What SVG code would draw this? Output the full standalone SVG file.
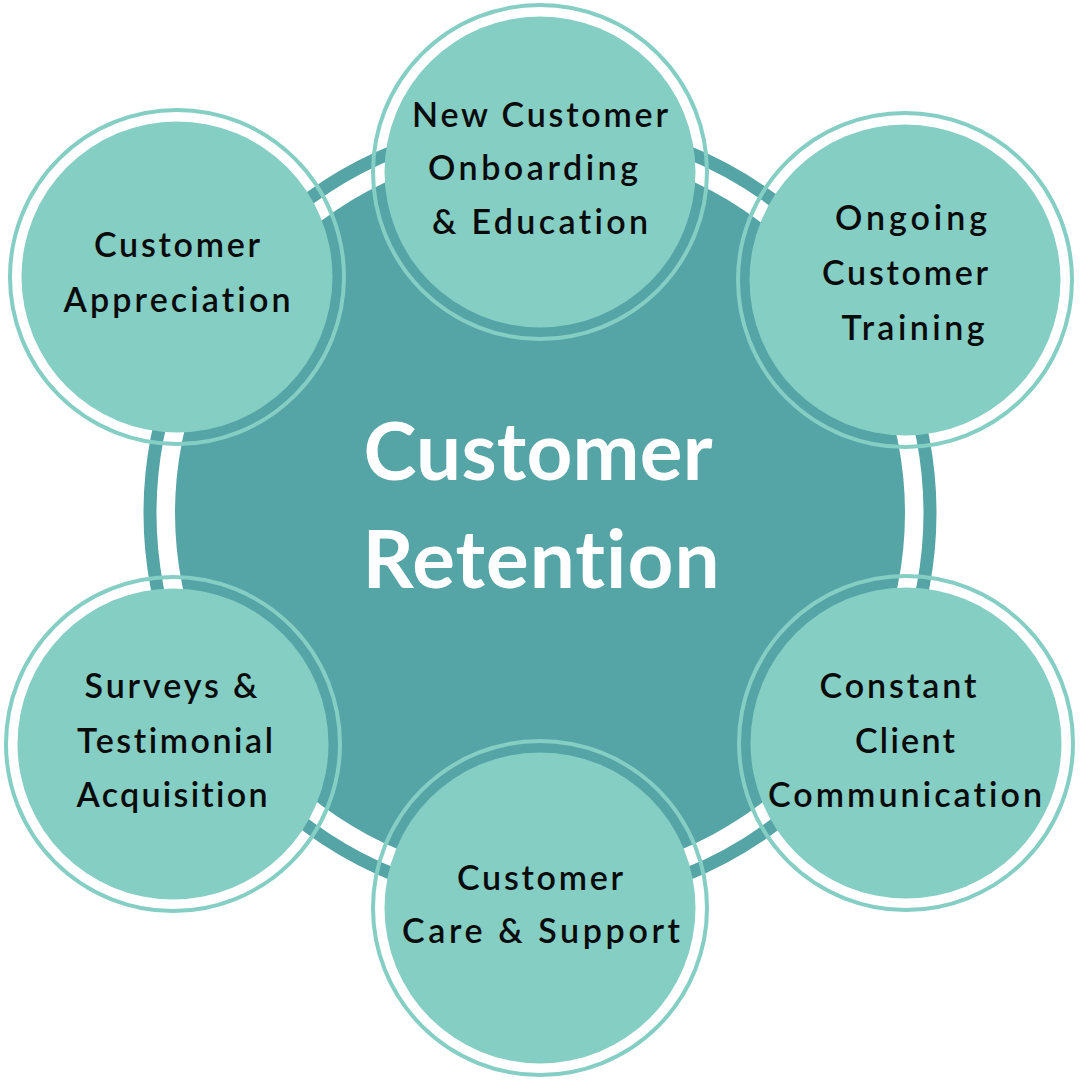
<svg xmlns="http://www.w3.org/2000/svg" width="1080" height="1080" viewBox="0 0 1080 1080">
<style>
.bg{fill:#ffffff}
.hub-ring{fill:none;stroke:#55A4A6;stroke-width:13}
.hub-fill{fill:#55A4A6}
.node-ring{fill:none;stroke:#84CEC4;stroke-width:4}
.node-fill{fill:#84CEC4}
text{font-variant-ligatures:none;font-feature-settings:"liga" 0,"clig" 0,"dlig" 0}
.lbl{font-family:"Lato","Noto Sans","DejaVu Sans",sans-serif;font-size:34px;font-weight:600;fill:#0a0a0a;text-anchor:middle}
.hub-lbl{font-family:"Lato","Noto Sans","DejaVu Sans",sans-serif;font-size:80px;font-weight:700;fill:#ffffff;text-anchor:middle}
</style>
<rect class="bg" x="0" y="0" width="1080" height="1080"/>
<g id="hub">
<circle class="hub-ring" cx="540" cy="513" r="390"/>
<circle class="hub-fill" cx="540" cy="513" r="365"/>
<text class="hub-lbl" x="538" y="480" textLength="349" lengthAdjust="spacing">Customer</text>
<text class="hub-lbl" x="541" y="588" textLength="357" lengthAdjust="spacing">Retention</text>
</g>
<g id="connectors"></g>
<g id="node-onboarding">
<circle class="node-ring" cx="540" cy="172" r="167"/>
<circle class="node-fill" cx="540" cy="172" r="155.5"/>
<text class="lbl" x="540" y="127" textLength="256" lengthAdjust="spacing">New Customer</text>
<text class="lbl" x="533" y="180" textLength="210" lengthAdjust="spacing">Onboarding</text>
<text class="lbl" x="540" y="234" textLength="216" lengthAdjust="spacing">&amp; Education</text>
</g>
<g id="node-training">
<circle class="node-ring" cx="905" cy="280" r="167"/>
<circle class="node-fill" cx="905" cy="280" r="155.5"/>
<text class="lbl" x="911" y="230" textLength="152" lengthAdjust="spacing">Ongoing</text>
<text class="lbl" x="905" y="285" textLength="166" lengthAdjust="spacing">Customer</text>
<text class="lbl" x="913" y="340" textLength="143" lengthAdjust="spacing">Training</text>
</g>
<g id="node-communication">
<circle class="node-ring" cx="906" cy="743" r="167"/>
<circle class="node-fill" cx="906" cy="743" r="155.5"/>
<text class="lbl" x="898" y="698" textLength="157" lengthAdjust="spacing">Constant</text>
<text class="lbl" x="905" y="753" textLength="100" lengthAdjust="spacing">Client</text>
<text class="lbl" x="905" y="807" textLength="274" lengthAdjust="spacing">Communication</text>
</g>
<g id="node-support">
<circle class="node-ring" cx="540" cy="908" r="167"/>
<circle class="node-fill" cx="540" cy="908" r="155.5"/>
<text class="lbl" x="540" y="890" textLength="166" lengthAdjust="spacing">Customer</text>
<text class="lbl" x="541" y="943" textLength="278" lengthAdjust="spacing">Care &amp; Support</text>
</g>
<g id="node-surveys">
<circle class="node-ring" cx="173" cy="744" r="167"/>
<circle class="node-fill" cx="173" cy="744" r="155.5"/>
<text class="lbl" x="171" y="698" textLength="173" lengthAdjust="spacing">Surveys &amp;</text>
<text class="lbl" x="175" y="753" textLength="196" lengthAdjust="spacing">Testimonial</text>
<text class="lbl" x="172" y="807" textLength="191" lengthAdjust="spacing">Acquisition</text>
</g>
<g id="node-appreciation">
<circle class="node-ring" cx="177" cy="277" r="167"/>
<circle class="node-fill" cx="177" cy="277" r="155.5"/>
<text class="lbl" x="177" y="257" textLength="166" lengthAdjust="spacing">Customer</text>
<text class="lbl" x="177" y="312" textLength="227" lengthAdjust="spacing">Appreciation</text>
</g>
</svg>
